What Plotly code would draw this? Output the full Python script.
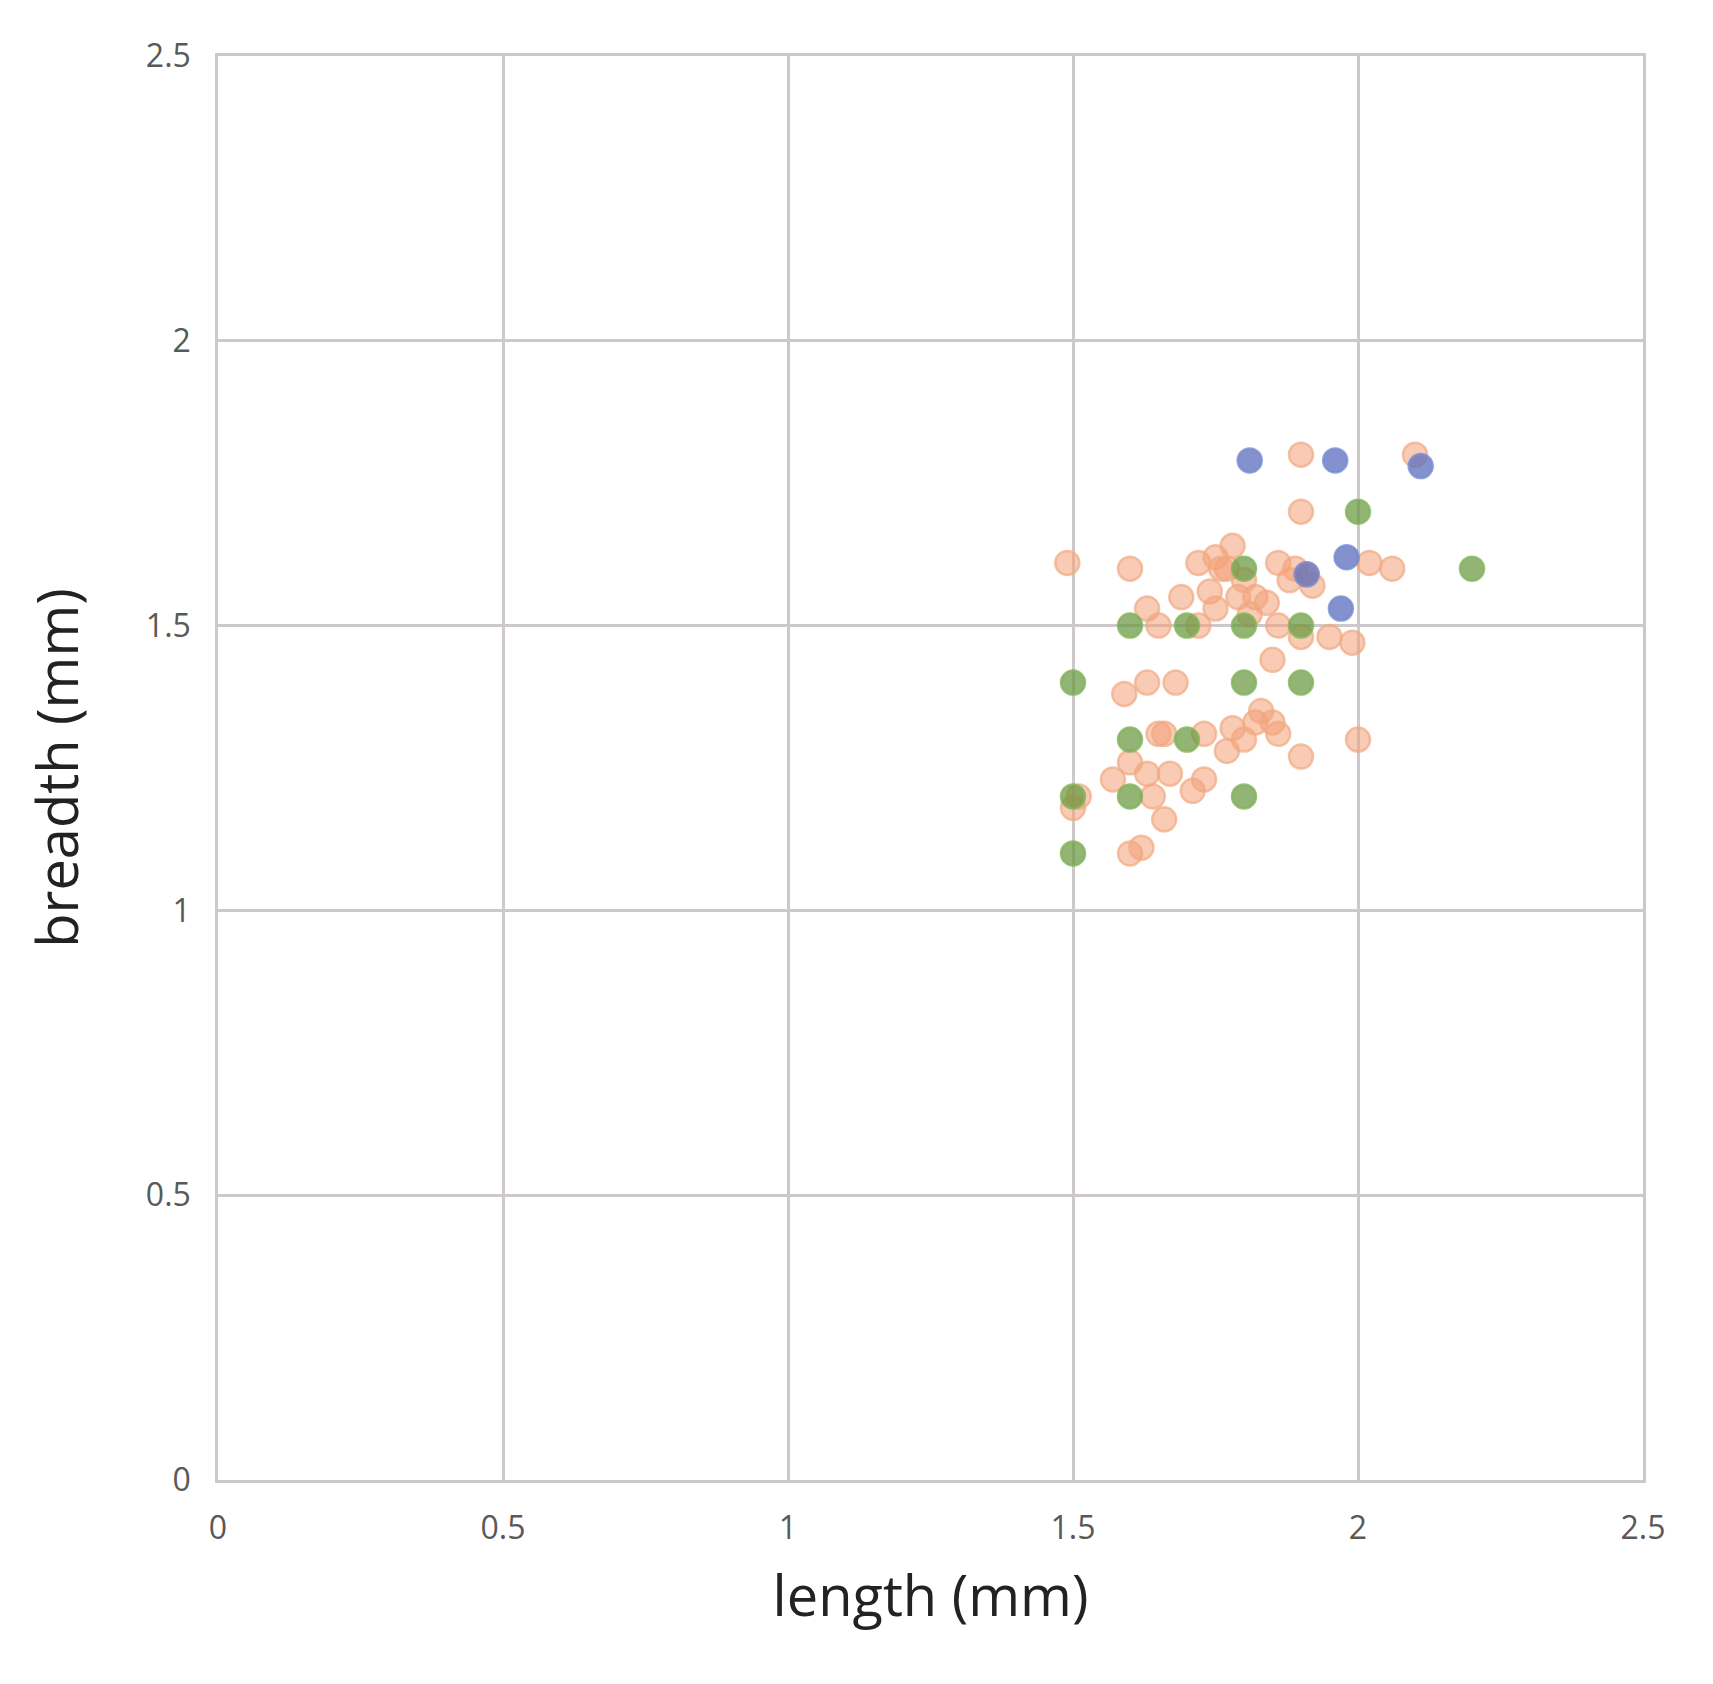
import plotly.graph_objects as go

orange_x = [1.49,1.6,1.9,1.9,2.1,1.63,1.65,1.69,1.72,1.75,1.78,1.77,1.74,1.75,1.82,1.84,1.86,1.89,1.91,1.92,1.88,1.86,1.9,1.95,1.99,2.02,2.06,1.85,1.59,1.63,1.68,1.65,1.66,1.73,1.78,1.8,1.82,1.83,1.85,1.86,1.77,1.9,2.0,1.57,1.6,1.63,1.67,1.64,1.66,1.71,1.73,1.5,1.51,1.6,1.62,1.79,1.8,1.76,1.72,1.81]
orange_y = [1.61,1.6,1.8,1.7,1.8,1.53,1.5,1.55,1.61,1.62,1.64,1.6,1.56,1.53,1.55,1.54,1.61,1.6,1.59,1.57,1.58,1.5,1.48,1.48,1.47,1.61,1.6,1.44,1.38,1.4,1.4,1.31,1.31,1.31,1.32,1.3,1.33,1.35,1.33,1.31,1.28,1.27,1.3,1.23,1.26,1.24,1.24,1.2,1.16,1.21,1.23,1.18,1.2,1.1,1.11,1.55,1.58,1.6,1.5,1.52]
green_x = [1.5,1.5,1.5,1.6,1.6,1.6,1.7,1.7,1.8,1.8,1.8,1.8,1.9,1.9,2.0,2.2]
green_y = [1.4,1.2,1.1,1.5,1.3,1.2,1.5,1.3,1.6,1.5,1.4,1.2,1.5,1.4,1.7,1.6]
blue_x = [1.81,1.96,2.11,1.98,1.97,1.91]
blue_y = [1.79,1.79,1.78,1.62,1.53,1.59]

fig = go.Figure()
def add(x, y, fill, line):
    fig.add_trace(go.Scatter(x=x, y=y, mode="markers",
        marker=dict(size=24, color=fill, line=dict(color=line, width=2.5))))
add(orange_x, orange_y, "rgba(244,160,120,0.55)", "rgba(240,170,130,0.7)")
add(blue_x, blue_y, "rgba(90,110,190,0.75)", "rgba(120,140,210,0.8)")
add(green_x, green_y, "rgba(100,150,60,0.7)", "rgba(130,180,90,0.8)")

ax = dict(range=[0, 2.5], dtick=0.5, showgrid=True, gridcolor="#cdc8c9", gridwidth=2.5,
          zeroline=False, showline=True, linecolor="#cdc8c9", linewidth=2.5, mirror=True,
          tickfont=dict(family="Open Sans", size=32, color="#595959"), ticks="",
          ticklabelstandoff=18)
fig.update_layout(width=1713, height=1684, showlegend=False,
    plot_bgcolor="white", paper_bgcolor="white",
    margin=dict(l=210, r=78, t=48, b=212),
    xaxis=dict(ax, title=dict(text="length (mm)", font=dict(family="Open Sans", size=56, color="#222"), standoff=30)),
    yaxis=dict(ax, title=dict(text="breadth (mm)", font=dict(family="Open Sans", size=56, color="#222"), standoff=50)))
fig.write_html("out.html")
